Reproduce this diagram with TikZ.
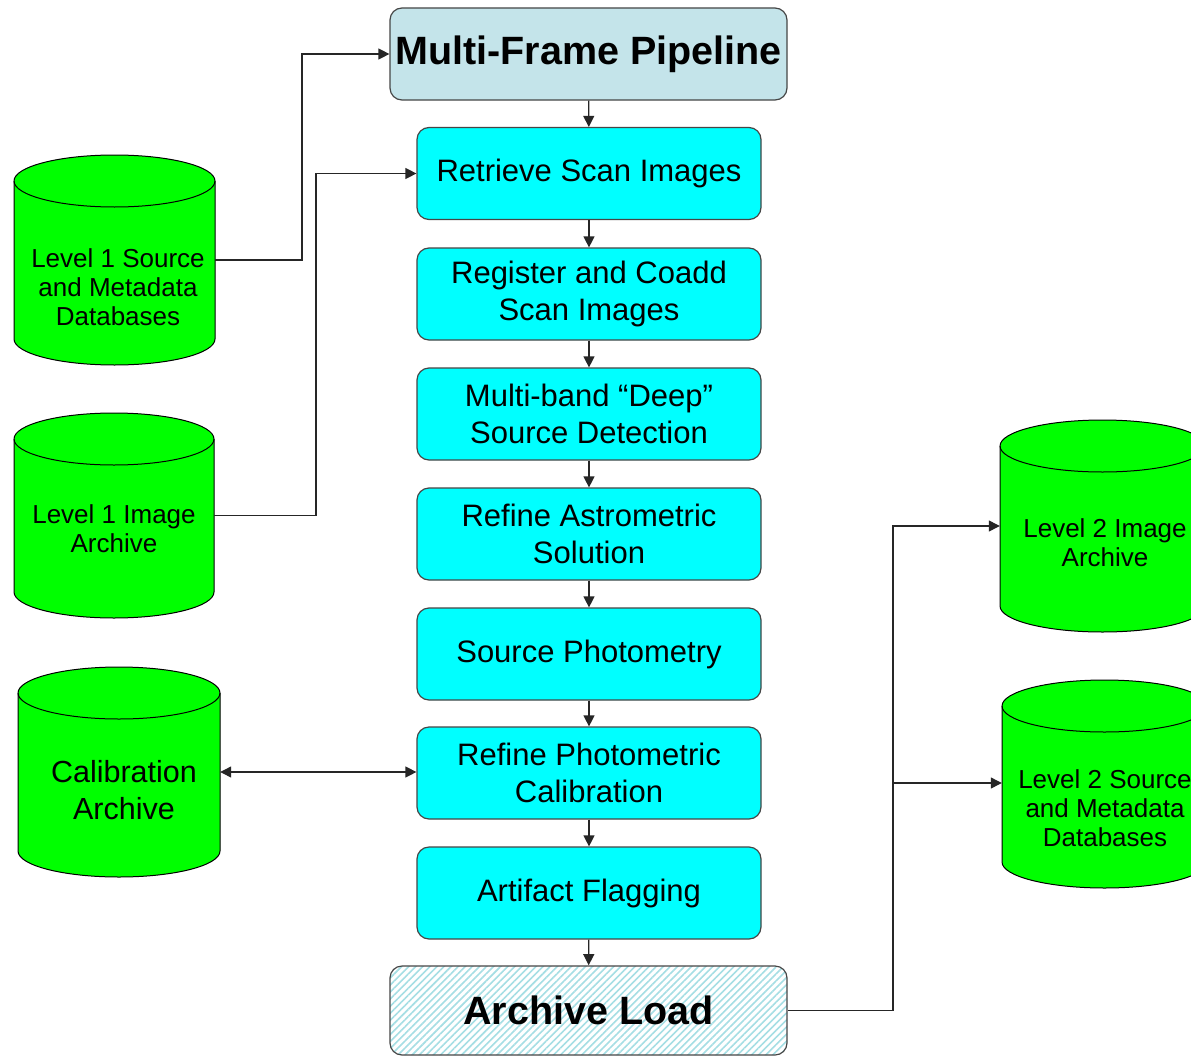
\documentclass[tikz,border=0pt]{standalone}
\usepackage{fontspec}
\setmainfont{Liberation Sans}
\usetikzlibrary{arrows.meta,patterns.meta}
\definecolor{cyanbox}{RGB}{0,255,255}
\definecolor{hdr}{RGB}{196,228,234}
\definecolor{dbgreen}{RGB}{0,255,0}
\definecolor{edgec}{RGB}{70,70,70}
\definecolor{hatchc}{RGB}{165,222,228}
\newcommand\mycyl[4]{%
  \pgfmathsetmacro\cxr{#3/2}%
  \filldraw[cylbody] (#1,#2+26) -- (#1,#4-26)
    arc[start angle=180,end angle=360,x radius=\cxr pt,y radius=26pt]
    -- (#1+#3,#2+26)
    arc[start angle=0,end angle=180,x radius=\cxr pt,y radius=26pt] -- cycle;
  \draw[cylline] (#1,#2+26) arc[start angle=180,end angle=360,x radius=\cxr pt,y radius=26pt];
}
\begin{document}
\begin{tikzpicture}[x=1pt,y=-1pt,
  box/.style={draw=edgec, line width=1.2pt, rounded corners=12pt, fill=cyanbox,
    minimum width=344pt, minimum height=92pt, align=center, inner sep=0pt,
    font=\fontsize{31}{37}\selectfont},
  hdrbox/.style={box, fill=hdr, minimum width=397pt, font=\bfseries\fontsize{39.5}{44}\selectfont},
  loadbox/.style={box, fill=white, pattern={Lines[angle=45,distance=5pt,line width=1.6pt]},
    pattern color=hatchc, minimum width=397pt, minimum height=89pt,
    font=\bfseries\fontsize{39.5}{44}\selectfont},
  cylbody/.style={draw=black, line width=1pt, fill=dbgreen},
  cylline/.style={draw=black, line width=1pt},
  cylarea/.style={inner sep=0pt, minimum width=#1},
  cyltext/.style={align=center, inner sep=0pt, font=\fontsize{26}{29}\selectfont},
  flow/.style={draw=black!85, line width=1.2pt, -{Triangle[length=11pt,width=11pt]}},
  both/.style={draw=black!85, line width=1.2pt, {Triangle[length=11pt,width=11pt]}-{Triangle[length=11pt,width=11pt]}}
]
\useasboundingbox (0,0) rectangle (1191,1057);
\clip (0,0) rectangle (1191,1057);
\fill[white] (0,0) rectangle (1191,1057);

% central column
\node[hdrbox] (mfp) at (588.5,54) {Multi-Frame Pipeline};
\node[box] (rsi) at (589,173.5) {Retrieve Scan Images};
\node[box] (rcs) at (589,294) {Register and Coadd\\Scan Images};
\node[box] (msd) at (589,414) {Multi-band “Deep”\\Source Detection};
\node[box] (ras) at (589,534) {Refine Astrometric\\Solution};
\node[box] (sph) at (589,654) {Source Photometry};
\node[box] (rpc) at (589,773) {Refine Photometric\\Calibration};
\node[box] (afl) at (589,893) {Artifact Flagging};
\node[loadbox] (ald) at (588.5,1010.5) {Archive Load};

\draw[flow] (mfp) -- (rsi);
\draw[flow] (rsi) -- (rcs);
\draw[flow] (rcs) -- (msd);
\draw[flow] (msd) -- (ras);
\draw[flow] (ras) -- (sph);
\draw[flow] (sph) -- (rpc);
\draw[flow] (rpc) -- (afl);
\draw[flow] (afl) -- (ald);

% cylinders
\mycyl{14}{155}{201}{365}
\node[cylarea=201pt, minimum height=210pt] (l1s) at (114.5,260) {};
\node[cyltext] (l1st) at (118,287) {Level 1 Source\\and Metadata\\Databases};

\mycyl{14}{413}{200}{618}
\node[cylarea=200pt, minimum height=205pt] (l1i) at (114,515.5) {};
\node[cyltext] (l1it) at (114,529) {Level 1 Image\\Archive};

\mycyl{18}{667}{202}{877}
\node[cylarea=202pt, minimum height=210pt] (cal) at (119,772) {};
\node[cyltext, font=\fontsize{30.5}{37}\selectfont] (calt) at (124,790) {Calibration\\Archive};

\mycyl{1000}{420}{205}{632}
\node[cylarea=205pt, minimum height=212pt] (l2i) at (1102.5,526) {};
\node[cyltext] (l2it) at (1105,543) {Level 2 Image\\Archive};

\mycyl{1002}{680}{205}{888}
\node[cylarea=205pt, minimum height=208pt] (l2s) at (1104.5,783) {};
\node[cyltext] (l2st) at (1105,808) {Level 2 Source\\and Metadata\\Databases};

% connectors
\coordinate (j1) at (302,0);
\coordinate (j2) at (316,0);
\coordinate (j3) at (893,0);
\draw[flow] (l1s.east) -- (l1s.east -| j1) |- (mfp.west);
\draw[flow] (l1i.east) -- (l1i.east -| j2) |- (rsi.west);
\draw[both] (cal.east) -- (cal.east -| rpc.west);
\draw[flow] (ald.east) -- (ald.east -| j3) |- (l2i.west);
\draw[flow] (l2s.west -| j3) -- (l2s.west);
\end{tikzpicture}
\end{document}
